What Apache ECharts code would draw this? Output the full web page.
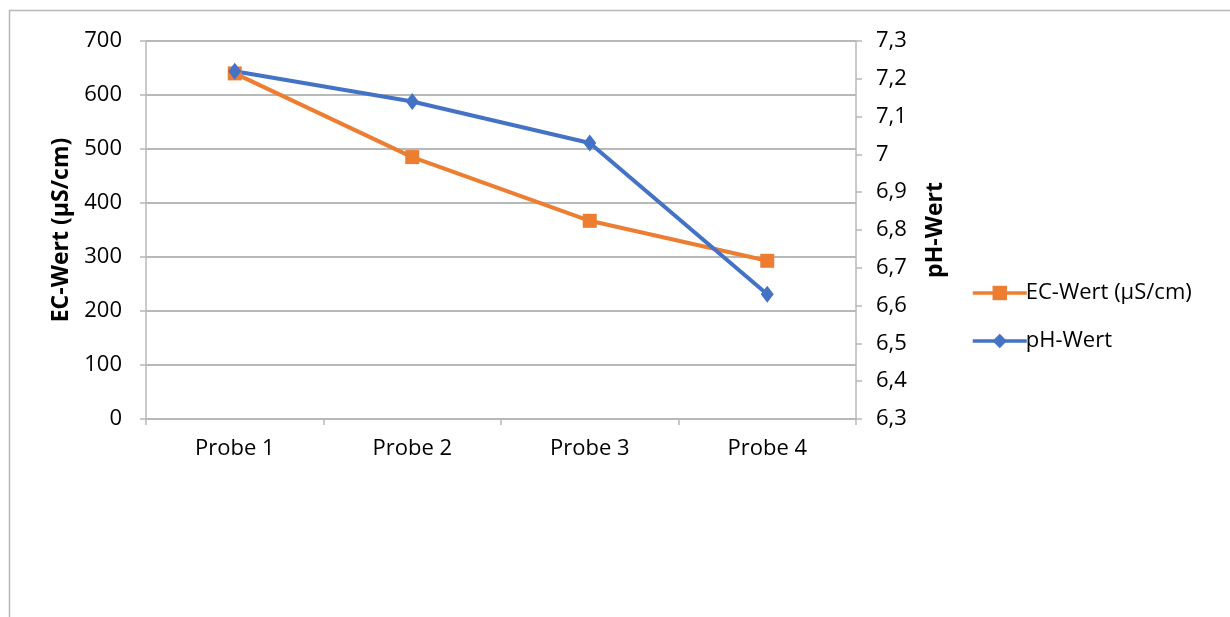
<!DOCTYPE html>
<html>
<head>
<meta charset="utf-8">
<script src="https://cdn.jsdelivr.net/npm/echarts@6/dist/echarts.min.js"></script>
<style>html,body{margin:0;padding:0;background:#fff}#c{width:1230px;height:617px}</style>
</head>
<body>
<div id="c"></div>
<script>
var categories = ['Probe 1', 'Probe 2', 'Probe 3', 'Probe 4'];
var ecValues = [640, 485, 367, 293];
var phValues = [7.22, 7.14, 7.03, 6.63];
var ecName = 'EC-Wert (µS/cm)';
var phName = 'pH-Wert';

var FONT = '"Open Sans", sans-serif';
var GRID = '#b8b8b8';
var FS = 22;
var chart = echarts.init(document.getElementById('c'), null, {renderer: 'canvas'});
chart.setOption({
  animation: false,
  backgroundColor: '#fff',
  textStyle: {fontFamily: FONT},
  graphic: [{
    type: 'rect', silent: true,
    shape: {x: 9.5, y: 10.5, width: 1300, height: 700},
    style: {fill: 'none', stroke: GRID, lineWidth: 1.5}
  }],
  grid: {left: 146, right: 374, top: 41, bottom: 198, containLabel: false},
  legend: {
    orient: 'vertical', left: 966, top: 277,
    itemWidth: 54, itemHeight: 18, itemGap: 26,
    lineStyle: {width: 3.5},
    textStyle: {fontFamily: FONT, fontSize: FS, color: '#000', padding: [0, 0, 0, -6]},
    data: [ecName, phName]
  },
  xAxis: {
    type: 'category', data: categories, boundaryGap: true,
    axisLine: {lineStyle: {color: GRID, width: 2}},
    axisTick: {show: true, alignWithLabel: false, length: 6, lineStyle: {color: GRID, width: 1.5}},
    axisLabel: {fontFamily: FONT, fontSize: FS, color: '#000', margin: 19}
  },
  yAxis: [{
    type: 'value', min: 0, max: 700, interval: 100,
    name: ecName, nameLocation: 'middle', nameGap: 71, nameRotate: 90,
    nameTextStyle: {fontFamily: FONT, fontSize: 23, fontWeight: 'bold', color: '#000'},
    axisLine: {show: true, lineStyle: {color: GRID, width: 1.5}},
    axisTick: {show: true, length: 6, lineStyle: {color: GRID, width: 1.5}},
    axisLabel: {fontFamily: FONT, fontSize: FS, color: '#000', margin: 24},
    splitLine: {show: true, lineStyle: {color: GRID, width: 2}}
  }, {
    type: 'value', min: 6.3, max: 7.3, interval: 0.1, position: 'right',
    name: phName, nameLocation: 'middle', nameGap: 68, nameRotate: 90,
    nameTextStyle: {fontFamily: FONT, fontSize: 23, fontWeight: 'bold', color: '#000'},
    axisLine: {show: true, lineStyle: {color: GRID, width: 1.5}},
    axisTick: {show: true, length: 6, lineStyle: {color: GRID, width: 1.5}},
    axisLabel: {fontFamily: FONT, fontSize: FS, color: '#000', margin: 20,
      formatter: function (v) { return String(Number(v.toFixed(1))).replace('.', ','); }},
    splitLine: {show: false}
  }],
  series: [{
    name: ecName, type: 'line', yAxisIndex: 0, data: ecValues,
    symbol: 'rect', symbolSize: 14, showAllSymbol: true,
    lineStyle: {color: '#ED7D31', width: 4},
    itemStyle: {color: '#ED7D31'}
  }, {
    name: phName, type: 'line', yAxisIndex: 1, data: phValues,
    symbol: 'diamond', symbolSize: [13, 17], showAllSymbol: true,
    lineStyle: {color: '#4472C4', width: 4},
    itemStyle: {color: '#4472C4'}
  }]
});
</script>
</body>
</html>
